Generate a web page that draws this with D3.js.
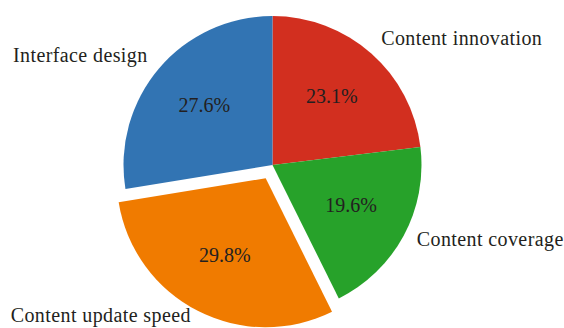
<!DOCTYPE html>
<html><head><meta charset="utf-8">
<script src="https://cdn.jsdelivr.net/npm/d3@7"></script>
<style>body{margin:0;background:#fff}svg{display:block}</style>
</head><body>
<svg id="chart" width="564" height="328"></svg>
<script>
const categories = ["Content innovation", "Content coverage", "Content update speed", "Interface design"];
const values = [23.1, 19.6, 29.8, 27.6];
const colors = ["#d22f1f", "#27a22a", "#f07b00", "#3274b3"];
const explode = [0, 0, 0.1, 0];

const W = 564, H = 328;
const svg = d3.select("#chart");
const cx = 272.5, cy = 165, r = 149;
const font = "'Liberation Serif', 'Times New Roman', serif";

const pie = d3.pie().sort(null).value(d => d)(values);
const arc = d3.arc().innerRadius(0).outerRadius(r);
const g = svg.append("g").attr("transform", `translate(${cx},${cy})`);

pie.forEach((p, i) => {
  const mid = (p.startAngle + p.endAngle) / 2;
  const off = explode[i] * r;
  const ox = off * Math.sin(mid), oy = -off * Math.cos(mid);
  const sg = g.append("g").attr("transform", `translate(${ox},${oy})`);
  sg.append("path").attr("d", arc(p)).attr("fill", colors[i]);
  const pr = 0.6 * r;
  sg.append("text")
    .attr("x", pr * Math.sin(mid)).attr("y", -pr * Math.cos(mid) + 4.6)
    .attr("text-anchor", "middle")
    .attr("font-family", font).attr("font-size", 20).attr("fill", "#231f20")
    .text(values[i].toFixed(1) + "%");
  const lr = 1.1 * r;
  const lx = lr * Math.sin(mid), ly = -lr * Math.cos(mid);
  // keep descenders inside the canvas
  const by = Math.min(ly + 3, H - 6 - cy - oy);
  sg.append("text")
    .attr("x", lx).attr("y", by)
    .attr("text-anchor", lx < 0 ? "end" : "start")
    .attr("font-family", font).attr("font-size", 20).attr("letter-spacing", 0.4)
    .attr("fill", "#231f20")
    .text(categories[i]);
});
</script>
</body></html>
